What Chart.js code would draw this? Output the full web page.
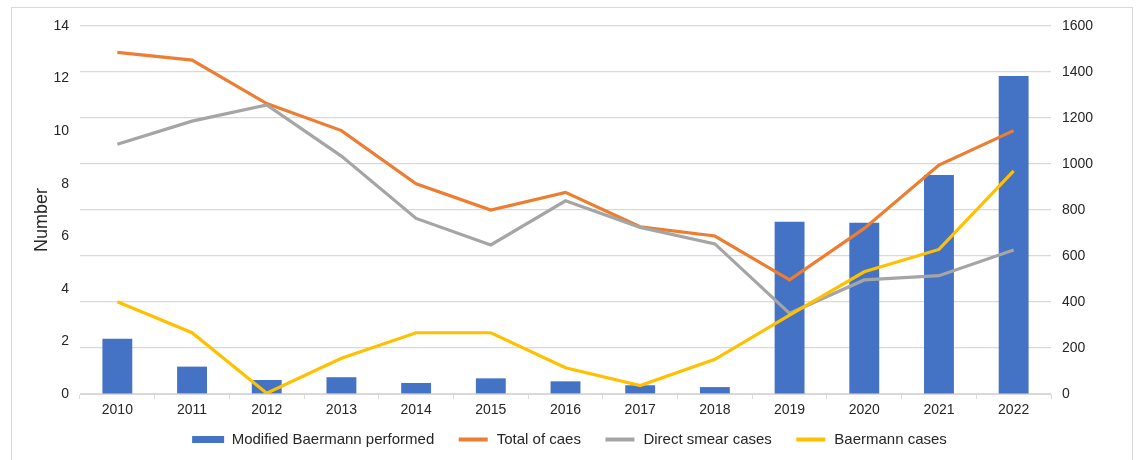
<!DOCTYPE html>
<html>
<head>
<meta charset="utf-8">
<script src="https://cdn.jsdelivr.net/npm/chart.js@4/dist/chart.umd.min.js"></script>
<style>
  body { margin: 0; background: #fff; }
  #frame { position: absolute; left: 11px; top: 7px; width: 1120px; height: 470px; border: 1px solid #d9d9d9; }
  #chart { position: absolute; left: 0; top: 0; }
</style>
</head>
<body>
<div id="frame"></div>
<canvas id="chart" width="1139" height="460"></canvas>
<script>
// DATA
const years = ["2010", "2011", "2012", "2013", "2014", "2015", "2016", "2017", "2018", "2019", "2020", "2021", "2022"];
const baermannPerformed = [240, 119, 61, 73, 48, 68, 55, 38, 30, 749, 745, 952, 1383];
const totalCases = [13.0, 12.7, 11.05, 10.02, 8.0, 7.0, 7.67, 6.36, 6.01, 4.34, 6.3, 8.71, 10.02];
const directSmear = [9.5, 10.38, 11.0, 9.05, 6.68, 5.67, 7.35, 6.34, 5.71, 3.07, 4.34, 4.5, 5.48];
const baermannCases = [3.51, 2.33, 0.03, 1.36, 2.33, 2.33, 1.0, 0.32, 1.32, 3.0, 4.65, 5.5, 8.49];
const leftMax = 14, leftStep = 2;
const rightMax = 1600, rightStep = 200;
const yTitle = "Number";

const fontFamily = "'Liberation Sans', Arial, sans-serif";
const tickFont = { family: fontFamily, size: 14 };
const textColor = "#262626";
const gridColor = "#d9d9d9";

function line(label, data, color, order) {
    return {
        type: "line",
        label: label,
        data: data,
        borderColor: color,
        backgroundColor: color,
        borderWidth: 3.2,
        pointRadius: 0,
        tension: 0,
        yAxisID: "y",
        order: order
    };
}

// legend sits closer to the axis than chart.js would put it
const legendFix = {
    id: "legendFix",
    beforeLayout(chart) {
        const lg = chart.legend;
        if (lg && !lg._fixed) {
            const fit = lg.fit;
            lg.fit = function () { fit.call(this); this.height = 38; };
            lg._fixed = true;
        }
    },
    afterLayout(chart) {
        chart.legend.top -= 13;
        chart.legend.bottom -= 13;
    }
};

// axis title, a bit below the middle like the original
const axisTitle = {
    id: "axisTitle",
    afterDraw(chart) {
        const ctx = chart.ctx;
        ctx.save();
        ctx.translate(42, 220);
        ctx.rotate(-Math.PI / 2);
        ctx.font = "18px " + fontFamily;
        ctx.fillStyle = textColor;
        ctx.textAlign = "center";
        ctx.textBaseline = "middle";
        ctx.fillText(yTitle, 0, 0);
        ctx.restore();
    }
};

new Chart(document.getElementById("chart"), {
    data: {
        labels: years,
        datasets: [
            {
                type: "bar",
                label: "Modified Baermann performed",
                data: baermannPerformed,
                backgroundColor: "#4472C4",
                borderWidth: 0,
                categoryPercentage: 1,
                barPercentage: 0.4,
                yAxisID: "y1",
                order: 4
            },
            line("Total of caes", totalCases, "#ED7D31", 3),
            line("Direct smear cases", directSmear, "#A5A5A5", 2),
            line("Baermann cases", baermannCases, "#FFC000", 1)
        ]
    },
    plugins: [legendFix, axisTitle],
    options: {
        responsive: false,
        animation: false,
        layout: { padding: { top: 26, left: 0, right: 0, bottom: 0 } },
        plugins: {
            tooltip: { enabled: false },
            legend: {
                position: "bottom",
                labels: {
                    font: { family: fontFamily, size: 15 },
                    color: textColor,
                    boxWidth: 32,
                    boxHeight: 7,
                    padding: 23,
                    sort: (a, b) => a.datasetIndex - b.datasetIndex,
                    generateLabels(chart) {
                        const items = Chart.defaults.plugins.legend.labels.generateLabels(chart);
                        items.forEach((it) => {
                            if (chart.data.datasets[it.datasetIndex].type === "line") {
                                it.strokeStyle = "#fff";
                                it.lineWidth = 3;
                            } else {
                                it.lineWidth = 0;
                            }
                        });
                        return items;
                    }
                }
            }
        },
        scales: {
            x: {
                grid: { display: true, drawOnChartArea: false, drawTicks: true, tickLength: 5, color: gridColor },
                border: { display: true, color: gridColor },
                ticks: { font: tickFont, color: textColor, padding: 3, maxRotation: 0 },
                afterFit: (s) => { s.height = 28; }
            },
            y: {
                position: "left",
                min: 0,
                max: leftMax,
                grid: { display: false, drawTicks: false },
                border: { display: false },
                ticks: { stepSize: leftStep, font: tickFont, color: textColor, padding: 11 },
                afterFit: (s) => { s.width = 80; }
            },
            y1: {
                position: "right",
                min: 0,
                max: rightMax,
                grid: { color: gridColor, drawTicks: false, lineWidth: 1.2 },
                border: { display: false },
                ticks: { stepSize: rightStep, font: tickFont, color: textColor, padding: 11, callback: (v) => String(v) },
                afterFit: (s) => { s.width = 88; }
            }
        }
    }
});
</script>
</body>
</html>
